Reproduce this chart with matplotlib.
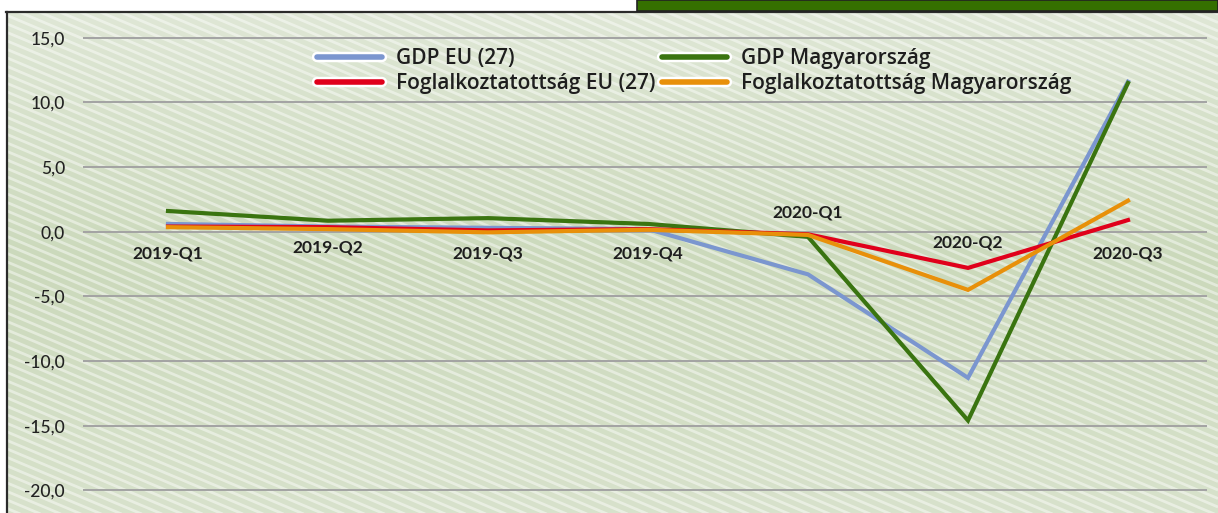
import numpy as np
import matplotlib
matplotlib.use("Agg")
import matplotlib.pyplot as plt
from matplotlib.lines import Line2D
from matplotlib.patches import Rectangle
import matplotlib.patheffects as pe
from matplotlib.colors import LinearSegmentedColormap

categories = ["2019-Q1", "2019-Q2", "2019-Q3", "2019-Q4", "2020-Q1", "2020-Q2", "2020-Q3"]
gdp_eu = [0.6, 0.4, 0.3, 0.2, -3.3, -11.3, 11.6]
gdp_hu = [1.6, 0.85, 1.05, 0.6, -0.4, -14.6, 11.5]
emp_eu = [0.4, 0.35, 0.1, 0.2, -0.2, -2.8, 0.9]
emp_hu = [0.35, 0.2, -0.05, 0.15, -0.25, -4.5, 2.4]
series_names = ["GDP EU (27)", "GDP Magyarország", "Foglalkoztatottság EU (27)",
                "Foglalkoztatottság Magyarország"]
cat_label_y = [-1.65, -1.2, -1.65, -1.65, 1.45, -0.8, -1.65]
yticks = [15, 10, 5, 0, -5, -10, -15, -20]

colors = {"blue": "#7b96cf", "green": "#3a7410", "red": "#e0001b", "orange": "#e8900a"}

W, H = 1218, 513
fig = plt.figure(figsize=(W / 100, H / 100), dpi=100)
fig.patch.set_facecolor("white")

# background panel (frame area)
fx0, fy0 = 6, 12
bg = fig.add_axes([fx0 / W, 0, 1 - fx0 / W, (H - fy0) / H])
bg.set_xlim(fx0, W)
bg.set_ylim(H, fy0)
bg.axis("off")
cmap = LinearSegmentedColormap.from_list(
    "g", [(0, "#dfe7d6"), (0.5, "#cbd9bb"), (1, "#d8e2cc")])
grad = np.linspace(0, 1, 256).reshape(-1, 1)
bg.imshow(grad, aspect="auto", cmap=cmap, extent=[fx0, W, H, fy0], zorder=0)
slope = 0.42
for c in np.arange(-slope * W - 20, H + 20, 8.5):
    bg.plot([fx0, W], [c + slope * fx0, c + slope * W], color="white",
            alpha=0.45, lw=2.0, solid_capstyle="butt", zorder=1)
# frame border
bg.plot([fx0 + 0.5, fx0 + 0.5], [H, fy0], color="#2b2b2b", lw=1.6, zorder=3, clip_on=False)
bg.plot([fx0, W], [fy0 + 0.5, fy0 + 0.5], color="#2b2b2b", lw=1.6, zorder=3, clip_on=False)

# green header box at top right
fig.patches.append(Rectangle((637 / W, (H - 11) / H), (W - 637) / W, 11 / H,
                             transform=fig.transFigure, facecolor="#357000",
                             edgecolor="#222222", lw=1.2, zorder=5))

# main axes
x0_px, x1_px = 83, 1207
zero_px, ppu = 231.7, 12.93
ax = fig.add_axes([x0_px / W, 0, (x1_px - x0_px) / W, (H - fy0) / H])
ax.patch.set_alpha(0)
ax.set_ylim((zero_px - H) / ppu, (zero_px - fy0) / ppu)
ax.set_xlim((x0_px - 168) / 160, (x1_px - 168) / 160)
for s in ax.spines.values():
    s.set_visible(False)
ax.set_yticks(yticks)
ax.set_yticklabels([f"{v:.1f}".replace(".", ",") for v in yticks],
                   fontsize=12.5, color="#222222", fontfamily="Lato", fontweight="medium")
ax.tick_params(axis="y", length=0, pad=13)
for lab in ax.get_yticklabels():
    lab.set_horizontalalignment("right")
ax.set_xticks([])
ax.grid(axis="y", color="#a3a3a3", lw=1.4)
ax.set_axisbelow(True)

xs = np.arange(len(categories))
ax.plot(xs, gdp_eu, color=colors["blue"], lw=3, solid_joinstyle="miter", zorder=3)
ax.plot(xs, gdp_hu, color=colors["green"], lw=3, solid_joinstyle="miter", zorder=3)
ax.plot(xs, emp_eu, color=colors["red"], lw=3, solid_joinstyle="miter", zorder=3)
ax.plot(xs, emp_hu, color=colors["orange"], lw=3, solid_joinstyle="miter", zorder=3)

for x, lab, ly in zip(xs, categories, cat_label_y):
    ax.text(x, ly, lab, ha="center", va="center", fontsize=12.5, fontweight="bold",
            fontfamily="Lato", color="#1e1e1e", zorder=4)

# legend
peff = [pe.Stroke(linewidth=7.5, foreground="white"), pe.Normal()]
handles = [Line2D([], [], color=colors[c], lw=4, solid_capstyle="round", path_effects=peff)
           for c in ["blue", "red", "green", "orange"]]
labels = [series_names[0], series_names[2], series_names[1], series_names[3]]
leg = ax.legend(handles, labels, ncol=2, frameon=False, loc="upper left",
                bbox_to_anchor=((309 - x0_px) / (x1_px - x0_px), (H - 40) / (H - fy0)),
                prop={"family": "Open Sans", "weight": "semibold", "size": 15},
                handlelength=3.1, handletextpad=0.7, columnspacing=0.3,
                labelspacing=0.2, borderaxespad=0)
for t in leg.get_texts():
    t.set_color("#1e1e1e")

fig.savefig("out.png", dpi=100)
